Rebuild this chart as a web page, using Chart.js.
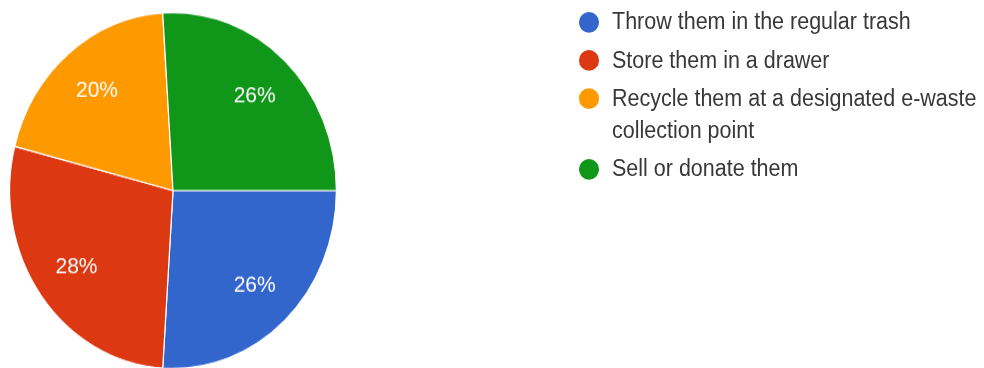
<!DOCTYPE html>
<html>
<head>
<meta charset="utf-8">
<script src="https://cdn.jsdelivr.net/npm/chart.js@4/dist/chart.umd.min.js"></script>
<style>
  html, body { margin: 0; padding: 0; background: #fff; overflow: hidden; }
  #stage { position: absolute; left: 0; top: 0; width: 984px; height: 339px; overflow: hidden;
           transform-origin: 0 0; transform: scaleY(1.0888); }
  #chart { position: absolute; left: 0; top: 0; }
  #legend { position: absolute; left: 579px; top: 5px; margin: 0; padding: 0; list-style: none;
            font-family: "Liberation Sans", Arial, sans-serif; font-size: 21.5px; line-height: 30px; color: #383838; }
  #legend li { display: flex; align-items: flex-start; margin-bottom: 5px; }
  #legend .dot { flex: 0 0 auto; width: 20px; height: 18.5px; border-radius: 50%; margin-top: 6px; margin-right: 13px; }
  #legend .txt { width: 372px; }
</style>
</head>
<body>
<div id="stage">
  <canvas id="chart" width="984" height="339"></canvas>
  <ul id="legend"></ul>
</div>
<script>
const categories = [
  "Throw them in the regular trash",
  "Store them in a drawer",
  "Recycle them at a designated e-waste collection point",
  "Sell or donate them"
];
const percentages = [26, 28, 20, 26];
const sliceColors = ["#3366cc", "#dc3912", "#ff9900", "#109618"];

const legend = document.getElementById("legend");
categories.forEach((c, i) => {
  const li = document.createElement("li");
  const dot = document.createElement("span");
  dot.className = "dot";
  dot.style.background = sliceColors[i];
  const t = document.createElement("span");
  t.className = "txt";
  t.textContent = c;
  li.appendChild(dot); li.appendChild(t);
  legend.appendChild(li);
});

const sliceLabels = {
  id: "sliceLabels",
  afterDatasetsDraw(chart) {
    const ctx = chart.ctx;
    const meta = chart.getDatasetMeta(0);
    const data = chart.data.datasets[0].data;
    const total = data.reduce((a, b) => a + b, 0);
    ctx.save();
    ctx.fillStyle = "#ffffff";
    ctx.font = "21px 'Liberation Sans', Arial, sans-serif";
    ctx.textAlign = "center";
    ctx.textBaseline = "middle";
    meta.data.forEach((arc, i) => {
      const p = arc.getProps(["x", "y", "startAngle", "endAngle", "outerRadius"], true);
      const mid = (p.startAngle + p.endAngle) / 2;
      const r = p.outerRadius * 0.73;
      const pct = Math.round(data[i] / total * 100);
      ctx.fillText(pct + "%", p.x + Math.cos(mid) * r, p.y + Math.sin(mid) * r);
    });
    ctx.restore();
  }
};

new Chart(document.getElementById("chart"), {
  type: "pie",
  data: {
    labels: categories,
    datasets: [{
      data: percentages,
      backgroundColor: sliceColors,
      borderColor: "#ffffff",
      borderWidth: 1.2
    }]
  },
  options: {
    responsive: false,
    animation: false,
    rotation: 90,
    layout: { padding: { left: 9, top: 11, right: 647, bottom: 0 } },
    plugins: {
      legend: { display: false },
      tooltip: { enabled: false }
    }
  },
  plugins: [sliceLabels]
});
</script>
</body>
</html>
